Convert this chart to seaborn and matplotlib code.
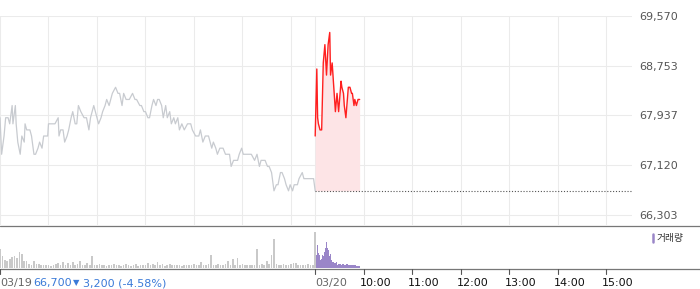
import matplotlib
matplotlib.use("Agg")
import matplotlib.pyplot as plt
from matplotlib.lines import Line2D
import numpy as np
import pandas as pd
import seaborn as sns

# ---------------- data ----------------
# 03/19 session: minutes after 09:00, price (KRW)
prev_minutes = [0, 2, 5, 7, 10, 12, 15, 16, 19, 20,
                22, 25, 27, 30, 31, 33, 37, 39, 42, 44,
                47, 49, 52, 54, 59, 60, 64, 68, 72, 73,
                75, 78, 80, 83, 85, 88, 90, 93, 95, 97,
                100, 104, 107, 110, 112, 116, 118, 122, 125, 127,
                130, 132, 135, 137, 139, 143, 146, 148, 151, 153,
                156, 158, 160, 164, 167, 169, 173, 175, 178, 180,
                183, 185, 188, 190, 193, 195, 197, 200, 202, 205,
                207, 210, 212, 215, 217, 220, 222, 225, 228, 232,
                236, 238, 242, 246, 248, 251, 254, 258, 262, 264,
                267, 269, 272, 274, 276, 279, 281, 284, 286, 289,
                291, 294, 296, 299, 301, 304, 307, 311, 315, 318,
                321, 323, 326, 328, 331, 333, 336, 338, 339, 342,
                344, 347, 349, 352, 354, 357, 359, 362, 364, 368,
                370, 374, 376, 379, 384, 388, 390]
prev_prices = [67900, 67300, 67600, 67900, 67900, 67800, 68100, 67800, 68100, 67800,
               67500, 67300, 67600, 67500, 67800, 67700, 67700, 67600, 67300, 67300,
               67400, 67500, 67400, 67600, 67600, 67800, 67800, 67800, 67900, 67600,
               67700, 67700, 67500, 67600, 67700, 67900, 68000, 67800, 67800, 68100,
               68000, 67900, 67900, 67700, 67900, 68100, 68000, 67800, 67900, 68000,
               68100, 68200, 68100, 68200, 68300, 68400, 68300, 68300, 68100, 68300,
               68200, 68200, 68200, 68300, 68200, 68200, 68100, 68100, 68000, 68000,
               67900, 67900, 68100, 68200, 68100, 68200, 68200, 68100, 67900, 68100,
               67900, 68000, 67800, 67900, 67800, 67900, 67700, 67800, 67700, 67800,
               67800, 67700, 67600, 67600, 67700, 67500, 67600, 67600, 67400, 67500,
               67400, 67300, 67400, 67400, 67400, 67300, 67300, 67300, 67100, 67200,
               67200, 67200, 67300, 67400, 67300, 67300, 67300, 67300, 67200, 67300,
               67100, 67200, 67200, 67200, 67100, 67100, 67000, 66800, 66700, 66800,
               66800, 67000, 67000, 66900, 66800, 66700, 66800, 66700, 66800, 66800,
               66900, 67000, 66900, 66900, 66900, 66900, 66700]

# 03/20 session (so far): minutes after 09:00, price
today_minutes = [0, 2, 3, 4, 6, 8, 10, 12, 14, 16,
                 18, 19, 21, 23, 25, 27, 29, 32, 33, 35,
                 36, 38, 41, 43, 45, 46, 48, 49, 51, 53,
                 54, 55]
today_prices = [67600, 68700, 67900, 67800, 67700, 67700, 68800, 69100, 68600, 69100,
                69300, 68600, 68800, 68400, 68000, 68300, 68000, 68500, 68400, 68300,
                68100, 67900, 68400, 68400, 68300, 68300, 68100, 68200, 68100, 68200,
                68200, 68200]

prev_close = 66700
y_ticks = [66303, 67120, 67937, 68753, 69570]

# volume (thousand shares); 03/19 sampled every 3 minutes, 03/20 every minute
prev_volume = [19, 12, 8, 7, 9, 11, 12, 10, 16, 14,
               7, 7, 4, 3, 7, 4, 4, 3, 3, 3,
               3, 2, 3, 4, 5, 3, 6, 3, 5, 3,
               6, 3, 4, 7, 3, 3, 5, 3, 12, 3,
               3, 4, 3, 3, 2, 3, 3, 4, 3, 3,
               2, 3, 4, 3, 2, 3, 4, 2, 3, 3,
               3, 5, 3, 4, 3, 6, 3, 4, 2, 3,
               4, 3, 3, 3, 3, 2, 3, 3, 3, 3,
               4, 3, 3, 6, 3, 3, 4, 13, 3, 3,
               4, 3, 3, 4, 7, 3, 9, 3, 10, 3,
               4, 3, 3, 3, 3, 3, 19, 3, 4, 3,
               7, 4, 13, 29, 4, 3, 3, 4, 3, 3,
               4, 5, 5, 3, 3, 3, 3, 4, 3, 3,
               36]
today_volume = [10, 13, 23, 15, 13, 10, 8, 9, 13, 12,
                11, 16, 20, 26, 20, 18, 9, 12, 14, 8,
                6, 8, 6, 5, 5, 6, 5, 3, 4, 4,
                4, 3, 3, 4, 4, 3, 3, 3, 4, 4,
                3, 3, 3, 3, 3, 3, 3, 3, 3, 3,
                2, 2, 2, 2, 2]

session_len = 390  # 09:00-15:30
hour_labels = ["10:00", "11:00", "12:00", "13:00", "14:00", "15:00"]
date_labels = ["03/19", "03/20"]
info_price = "66,700"
info_change = "3,200 (-4.58%)"
legend_label = "거래량"

# ---------------- style ----------------
sns.set_style("white")
plt.rcParams['font.family'] = ['DejaVu Sans', 'Noto Sans CJK KR']

W, H = 700, 289
fig = plt.figure(figsize=(W / 100, H / 100), dpi=100)

def fx(px):
    return px / W

def fy(py):
    return 1 - py / H

XMAX = 782
PLOT_W = 632
ppm = PLOT_W / XMAX

ax = fig.add_axes([0, fy(225), fx(PLOT_W), (225 - 16) / H])
axv = fig.add_axes([0, fy(268), fx(PLOT_W), (268 - 226) / H])

grid_c = "#ebebeb"
for m in list(range(0, 361, 60)) + list(range(session_len, session_len + 361, 60)):
    ax.axvline(m, color=grid_c, lw=0.75, zorder=0)
for v in y_ticks:
    ax.axhline(v, color=grid_c, lw=0.75, zorder=0)

df_prev = pd.DataFrame({"minute": prev_minutes, "price": prev_prices})
df_today = pd.DataFrame({"minute": [session_len + m for m in today_minutes],
                         "price": today_prices})

ax.fill_between(df_today["minute"], df_today["price"], prev_close,
                color="#fde4e6", lw=0, zorder=1)
sns.lineplot(data=df_prev, x="minute", y="price", ax=ax, color="#c8cbd0",
             lw=0.9, estimator=None, zorder=2)
sns.lineplot(data=df_today, x="minute", y="price", ax=ax, color="#ff1f1f",
             lw=1.0, estimator=None, zorder=3)
ax.plot([session_len, XMAX], [prev_close, prev_close], color="#555555",
        lw=0.8, ls=(0, (1, 1.6)), zorder=3)

ax.set_xlim(0, XMAX)
ax.set_ylim(66139, 69570)
ax.set_yticks(y_ticks)
ax.set_yticklabels([f"{v:,}" for v in y_ticks])
ax.yaxis.tick_right()
ax.tick_params(axis="y", length=0, pad=5, labelsize=8, labelcolor="#555555")
ax.set_xticks([])
ax.set_xlabel("")
ax.set_ylabel("")
for s in ax.spines.values():
    s.set_visible(False)
for lbl in ax.get_yticklabels():
    lbl.set_clip_on(False)

# volume
prev_vx = [3 * i for i in range(len(prev_volume))]
today_vx = [session_len + 1 + i for i in range(len(today_volume))]
axv.bar(prev_vx, prev_volume, width=2.0, color="#c9c9c9", lw=0)
axv.bar(today_vx, today_volume, width=1.0, color="#9a86c8", lw=0)
axv.set_xlim(0, XMAX)
axv.set_ylim(0, 42)
axv.set_xticks([])
axv.set_yticks([])
for s in axv.spines.values():
    s.set_visible(False)

# separators
fig.add_artist(Line2D([0, 1], [fy(225.5), fy(225.5)], color="#777777", lw=0.9))
fig.add_artist(Line2D([0, 1], [fy(268.5), fy(268.5)], color="#777777", lw=0.9))

# ticks and labels
tick_minutes = [0, session_len] + [session_len + 60 * (i + 1) for i in range(6)]
for m in tick_minutes:
    x = m * ppm
    fig.add_artist(Line2D([fx(x), fx(x)], [fy(268.5), fy(274)], color="#555555", lw=0.8))

fig.text(fx(0), fy(283), date_labels[0], fontsize=8, color="#666666", ha="left", va="center")
fig.text(fx(session_len * ppm), fy(283), date_labels[1], fontsize=8, color="#666666",
         ha="left", va="center")
for i, lab in enumerate(hour_labels):
    x = (session_len + 60 * (i + 1)) * ppm
    fig.text(fx(x - 4), fy(283), lab, fontsize=8, color="#111111", ha="left", va="center")

blue = "#3a7ad8"
fig.text(fx(33), fy(283), info_price, fontsize=8, color=blue, ha="left", va="center")
fig.text(fx(73), fy(283), "▼", fontsize=6, color=blue, ha="left", va="center")
fig.text(fx(83), fy(283), info_change, fontsize=8, color=blue, ha="left", va="center")

# legend
fig.add_artist(Line2D([fx(653), fx(653)], [fy(234), fy(242)], color="#9a86c8", lw=1.8))
fig.text(fx(657), fy(238), legend_label, fontsize=7, color="#333333", ha="left",
         va="center", family=["Noto Sans CJK KR", "DejaVu Sans"])

fig.savefig("out.png", dpi=100)
